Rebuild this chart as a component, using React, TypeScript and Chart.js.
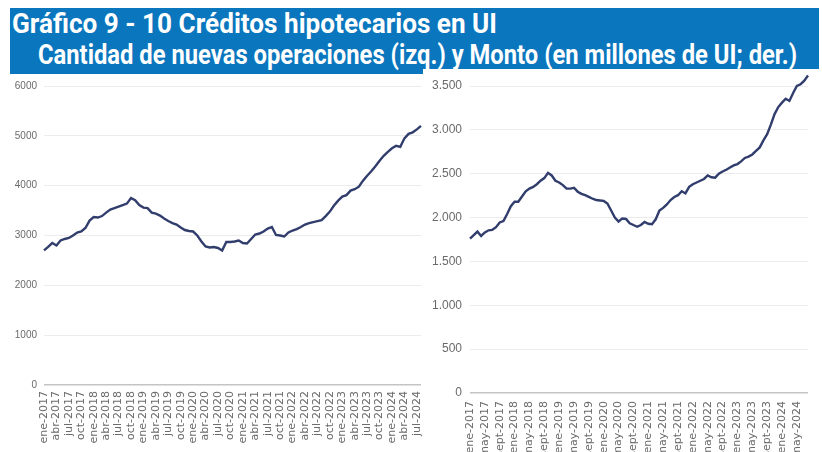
import React, { useEffect, useLayoutEffect, useRef } from "react";
import { Chart, registerables } from "chart.js";

Chart.register(...registerables);

const TITLE_1 = "Gráfico 9 - 10 Créditos hipotecarios en UI";
const TITLE_2 = "Cantidad de nuevas operaciones (izq.) y Monto (en millones de UI; der.)";

const MONTHS_LEFT = ["ene", "feb", "mar", "abr", "may", "jun", "jul", "ago", "sep", "oct", "nov", "dic"];
const MONTHS_RIGHT = ["ene", "feb", "mar", "abr", "may", "jun", "jul", "ago", "sept", "oct", "nov", "dic"];
const YEARS = [2017, 2018, 2019, 2020, 2021, 2022, 2023, 2024];
const N_MONTHS = 92; // ene-2017 .. ago-2024

// Cantidad de nuevas operaciones (izq.)
const cantidad = [
  2700, 2770, 2850, 2800, 2900, 2930, 2950, 3000, 3060, 3080, 3150, 3300,
  3370, 3360, 3390, 3460, 3520, 3550, 3580, 3610, 3640, 3750, 3710, 3610,
  3560, 3550, 3460, 3440, 3400, 3340, 3290, 3250, 3220, 3160, 3110, 3090,
  3080, 3000, 2880, 2780, 2760, 2770, 2750, 2700, 2870, 2870, 2880, 2900,
  2850, 2840, 2930, 3020, 3040, 3080, 3140, 3170, 3010, 3000, 2980, 3060,
  3100, 3130, 3170, 3220, 3250, 3270, 3290, 3310, 3390, 3480, 3600, 3700,
  3780, 3810, 3900, 3930, 3980, 4100, 4200, 4290, 4390, 4500, 4600, 4680,
  4750, 4800, 4780, 4950, 5040, 5070, 5130, 5200,
];

// Monto en millones de UI (der.)
const monto = [
  1760, 1800, 1840, 1790, 1830, 1855, 1860, 1890, 1945, 1960, 2040, 2130,
  2180, 2180, 2240, 2300, 2330, 2350, 2380, 2420, 2450, 2510, 2480, 2420,
  2400, 2370, 2330, 2330, 2340, 2295, 2270, 2255, 2235, 2215, 2200, 2195,
  2190, 2160, 2080, 2000, 1955, 1990, 1985, 1935, 1915, 1895, 1915, 1950,
  1930, 1925, 1980, 2080, 2110, 2150, 2200, 2235, 2255, 2300, 2275, 2350,
  2380, 2400, 2420, 2440, 2480, 2460, 2455, 2500, 2525, 2545, 2570, 2595,
  2610, 2640, 2680, 2695, 2720, 2760, 2800, 2880, 2950, 3060, 3180, 3260,
  3310, 3355, 3330, 3420, 3500, 3520, 3560, 3620,
];

const LEFT_Y_MAX = 6000;
const LEFT_Y_STEP = 1000;
const RIGHT_Y_MAX = 3500;
const RIGHT_Y_STEP = 500;
const LEFT_LABEL_EVERY = 3;
const RIGHT_LABEL_EVERY = 4;

function buildLabels(names: string[]): string[] {
  const out: string[] = [];
  for (const y of YEARS) {
    for (const m of names) {
      if (out.length < N_MONTHS) out.push(`${m}-${y}`);
    }
  }
  return out;
}

const labelsLeft = buildLabels(MONTHS_LEFT);
const labelsRight = buildLabels(MONTHS_RIGHT);

const LINE_COLOR = "#313d6c";
const TICK_COLOR = "#6a6a6a";
const BLUE = "#0a76be";

function fmtThousands(v: number): string {
  return String(v).replace(/\B(?=(\d{3})+(?!\d))/g, ".");
}

function makeConfig(opts: {
  labels: string[];
  data: number[];
  yMax: number;
  yStep: number;
  every: number;
  padTop: number;
  padRight: number;
  yWidth: number;
  xHeight: number;
  yFontSize: number;
  yPad: number;
  xPad: number;
  xFontSize: number;
  dots: boolean;
}): any {
  return {
    type: "line",
    data: {
      labels: opts.labels,
      datasets: [
        {
          data: opts.data,
          borderColor: LINE_COLOR,
          borderWidth: 2.4,
          pointRadius: 0,
          tension: 0,
          fill: false,
          clip: false,
        },
      ],
    },
    options: {
      animation: false,
      responsive: false,
      maintainAspectRatio: false,
      layout: { padding: { top: opts.padTop, right: opts.padRight, left: 0, bottom: 0 } },
      plugins: { legend: { display: false }, tooltip: { enabled: false }, title: { display: false } },
      scales: {
        x: {
          grid: { display: false, drawTicks: false },
          border: { display: false },
          ticks: {
            autoSkip: false,
            maxRotation: 90,
            minRotation: 90,
            padding: opts.xPad,
            color: TICK_COLOR,
            font: { family: "'DejaVu Sans'", size: opts.xFontSize },
            callback: (_v: any, i: number) => (i % opts.every === 0 ? opts.labels[i] : ""),
          },
          afterFit: (s: any) => {
            s.height = opts.xHeight;
            s.paddingLeft = 0;
            s.paddingRight = 0;
          },
        },
        y: {
          min: 0,
          max: opts.yMax,
          ticks: {
            stepSize: opts.yStep,
            padding: opts.yPad,
            color: TICK_COLOR,
            font: { family: "'Liberation Sans'", size: opts.yFontSize },
            callback: (v: any) => (opts.dots ? fmtThousands(Number(v)) : String(v)),
          },
          grid: {
            drawTicks: false,
            color: (ctx: any) => (ctx.tick && ctx.tick.value === 0 ? "#c4c4c4" : "#ececec"),
            lineWidth: (ctx: any) => (ctx.tick && ctx.tick.value === 0 ? 1.6 : 1),
          },
          border: { display: false },
          afterFit: (s: any) => {
            s.width = opts.yWidth;
            s.paddingTop = 0;
            s.paddingBottom = 0;
          },
        },
      },
    },
  };
}

function FitText(props: { text: string; left: number; top: number; width: number; size: number }) {
  const ref = useRef<HTMLSpanElement>(null);
  useLayoutEffect(() => {
    const el = ref.current;
    if (!el) return;
    el.style.transform = "none";
    const w = el.getBoundingClientRect().width;
    if (w > 0) el.style.transform = `scaleX(${props.width / w})`;
  }, [props.text, props.width]);
  return (
    <span
      ref={ref}
      style={{
        position: "absolute",
        left: props.left,
        top: props.top,
        whiteSpace: "nowrap",
        fontFamily: "Roboto, 'Liberation Sans', sans-serif",
        fontWeight: 700,
        fontSize: props.size,
        lineHeight: `${props.size}px`,
        color: "#ffffff",
        transformOrigin: "left top",
        display: "inline-block",
      }}
    >
      {props.text}
    </span>
  );
}

export default function App() {
  const leftRef = useRef<HTMLCanvasElement>(null);
  const rightRef = useRef<HTMLCanvasElement>(null);

  useEffect(() => {
    document.body.style.margin = "0";
    const charts: Chart[] = [];
    if (leftRef.current) {
      charts.push(
        new Chart(
          leftRef.current,
          makeConfig({
            labels: labelsLeft,
            data: cantidad,
            yMax: LEFT_Y_MAX,
            yStep: LEFT_Y_STEP,
            every: LEFT_LABEL_EVERY,
            padTop: 12,
            padRight: 4,
            yWidth: 34,
            xHeight: 67,
            yFontSize: 10,
            yPad: 7,
            xPad: 6,
            xFontSize: 11,
            dots: false,
          })
        )
      );
    }
    if (rightRef.current) {
      charts.push(
        new Chart(
          rightRef.current,
          makeConfig({
            labels: labelsRight,
            data: monto,
            yMax: RIGHT_Y_MAX,
            yStep: RIGHT_Y_STEP,
            every: RIGHT_LABEL_EVERY,
            padTop: 17,
            padRight: 11,
            yWidth: 47,
            xHeight: 59,
            yFontSize: 12,
            yPad: 8,
            xPad: 8,
            xFontSize: 11,
            dots: true,
          })
        )
      );
    }
    return () => charts.forEach((c) => c.destroy());
  }, []);

  return (
    <div style={{ position: "absolute", left: 0, top: 0, width: 822, height: 452, background: "#ffffff", overflow: "hidden" }}>
      <div style={{ position: "absolute", left: 10, top: 8, width: 809, height: 66, background: BLUE }} />
      <FitText text={TITLE_1} left={12} top={10} width={485} size={28} />
      <FitText text={TITLE_2} left={38} top={41} width={759} size={28} />
      <canvas
        ref={leftRef}
        width={415}
        height={378}
        style={{ position: "absolute", left: 10, top: 74, width: 415, height: 378, display: "block" }}
      />
      <canvas
        ref={rightRef}
        width={396}
        height={383}
        style={{ position: "absolute", left: 423, top: 69, width: 396, height: 383, display: "block", background: "#ffffff" }}
      />
    </div>
  );
}
